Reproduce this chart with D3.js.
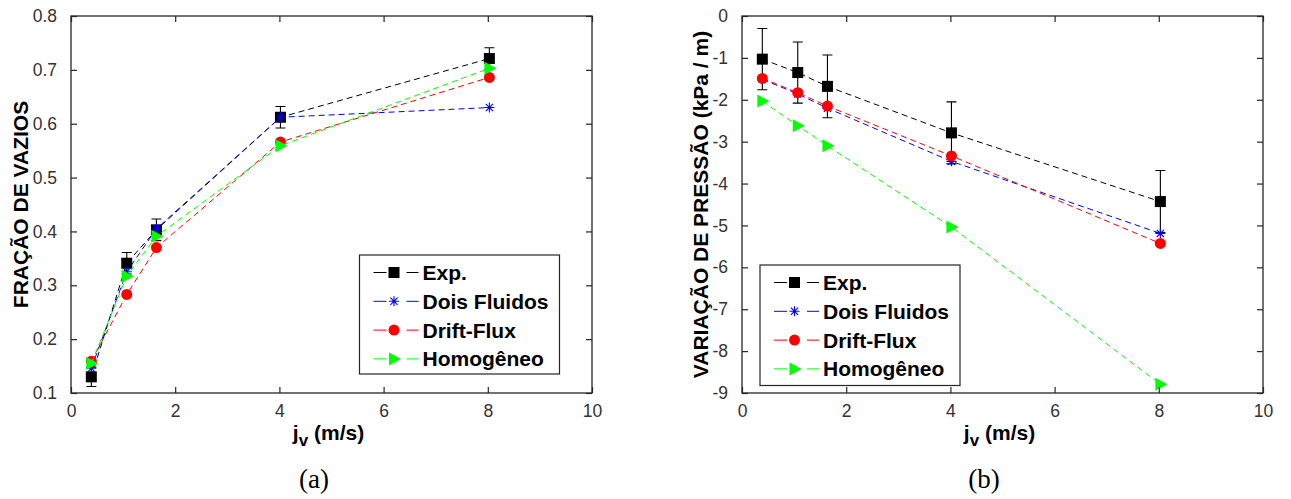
<!DOCTYPE html>
<html><head><meta charset="utf-8">
<script src="https://cdn.jsdelivr.net/npm/d3@7"></script>
<style>body{margin:0;background:#fff}svg{display:block}</style>
</head><body>
<svg id="c" width="1291" height="499"></svg>
<script>
// ---- data ----
const jv = [0.39, 1.07, 1.64, 4.02, 8.03];
const seriesNames = ["Exp.", "Dois Fluidos", "Drift-Flux", "Homogêneo"];
const seriesColors = ["#000000", "#0000ff", "#ff0000", "#00ff00"];
const seriesMarkers = ["square", "star", "circle", "triangle"];
// (a) void fraction
const voidExp = [0.130, 0.341, 0.403, 0.612, 0.721];
const voidExpErr = [0.018, 0.02, 0.02, 0.02, 0.02];
const voidDois = [0.146, 0.325, 0.405, 0.612, 0.630];
const voidDrift = [0.159, 0.283, 0.370, 0.566, 0.686];
const voidHomog = [0.155, 0.317, 0.391, 0.559, 0.703];
// (b) pressure gradient
const dpExp = [-1.03, -1.35, -1.68, -2.79, -4.43];
const dpExpErr = [0.73, 0.73, 0.75, 0.74, 0.74];
const dpDois = [-1.51, -1.86, -2.20, -3.47, -5.19];
const dpDrift = [-1.49, -1.83, -2.15, -3.34, -5.43];
const dpHomog = [-2.03, -2.62, -3.10, -5.04, -8.79];
// ticks
const xTicks = [0, 2, 4, 6, 8, 10];
const yTicksA = [0.1, 0.2, 0.3, 0.4, 0.5, 0.6, 0.7, 0.8];
const yTicksB = [0, -1, -2, -3, -4, -5, -6, -7, -8, -9];

const svg = d3.select("#c");
const AX = "#262626";
const FONT = "'Liberation Sans', Arial, sans-serif";

function marker(g, type, x, y, color) {
  if (type === "square") {
    g.append("rect").attr("x", x - 5.5).attr("y", y - 5.5).attr("width", 11).attr("height", 11).attr("fill", color);
  } else if (type === "circle") {
    g.append("circle").attr("cx", x).attr("cy", y).attr("r", 5.5).attr("fill", color);
  } else if (type === "triangle") {
    g.append("path").attr("d", `M${x-5},${y-6.5}L${x+7},${y}L${x-5},${y+6.5}Z`).attr("fill", color);
  } else if (type === "star") {
    const r = 5, d = 3.6;
    g.append("path").attr("d",
      `M${x-r},${y}L${x+r},${y}M${x},${y-r}L${x},${y+r}M${x-d},${y-d}L${x+d},${y+d}M${x-d},${y+d}L${x+d},${y-d}`)
      .attr("stroke", color).attr("stroke-width", 1.1).attr("fill", "none");
  }
}

function panel(opt) {
  const {x0, x1, y0, y1, yDomain, yTicks, yFmt, series, err, ylabel, legend, caption, capX} = opt;
  const g = svg.append("g");
  const xs = d3.scaleLinear().domain([0, 10]).range([x0, x1]);
  const ys = d3.scaleLinear().domain(yDomain).range([y1, y0]);

  series.forEach((s, i) => {
    const pts = jv.map((x, k) => [xs(x), ys(s[k])]);
    if (i === 0) {
      jv.forEach((x, k) => {
        const cx = xs(x), t = ys(s[k] + err[k]), b = ys(s[k] - err[k]);
        g.append("path").attr("d", `M${cx},${t}L${cx},${b}M${cx-5},${t}L${cx+5},${t}M${cx-5},${b}L${cx+5},${b}`)
          .attr("stroke", "#000").attr("stroke-width", 1.1).attr("fill", "none");
      });
    }
    g.append("path").attr("d", d3.line()(pts)).attr("fill", "none")
      .attr("stroke", seriesColors[i]).attr("stroke-width", 1).attr("stroke-dasharray", "6,4");
    pts.forEach(p => marker(g, seriesMarkers[i], p[0], p[1], seriesColors[i]));
  });

  g.append("rect").attr("x", x0).attr("y", y0).attr("width", x1 - x0).attr("height", y1 - y0)
    .attr("fill", "none").attr("stroke", AX).attr("stroke-width", 1.3);

  const xb = d3.axisBottom(xs).tickValues(xTicks).tickSizeInner(-6).tickSizeOuter(0).tickPadding(12).tickFormat(d3.format("d"));
  const xt = d3.axisTop(xs).tickValues(xTicks).tickSizeInner(-6).tickSizeOuter(0).tickFormat("");
  const yl = d3.axisLeft(ys).tickValues(yTicks).tickSizeInner(-6).tickSizeOuter(0).tickPadding(14).tickFormat(yFmt);
  const yr = d3.axisRight(ys).tickValues(yTicks).tickSizeInner(-6).tickSizeOuter(0).tickFormat("");
  [[xb, `translate(0,${y1})`], [xt, `translate(0,${y0})`], [yl, `translate(${x0},0)`], [yr, `translate(${x1},0)`]].forEach(([a, t]) => {
    const ga = g.append("g").attr("transform", t).call(a);
    ga.select(".domain").remove();
    ga.selectAll("line").attr("stroke", AX).attr("stroke-width", 1.2);
    ga.selectAll("text").attr("font-family", FONT).attr("font-size", 17.5).attr("fill", "#333");
  });

  const cx = (x0 + x1) / 2;
  const xl = g.append("text").attr("x", cx - 3).attr("y", 440).attr("text-anchor", "middle")
    .attr("font-family", FONT).attr("font-weight", "bold").attr("font-size", 21).attr("fill", "#000");
  xl.append("tspan").text("j");
  xl.append("tspan").attr("dy", 6).attr("font-size", 17).text("v");
  xl.append("tspan").attr("dy", -6).text(" (m/s)");

  g.append("text").attr("transform", `translate(${ylabel.x},${(y0 + y1) / 2}) rotate(-90)`)
    .attr("text-anchor", "middle").attr("font-family", FONT).attr("font-weight", "bold")
    .attr("font-size", 21).attr("fill", "#000").text(ylabel.text);

  const lg = g.append("g");
  lg.append("rect").attr("x", legend.x).attr("y", legend.y).attr("width", legend.w).attr("height", legend.h)
    .attr("fill", "#fff").attr("stroke", AX).attr("stroke-width", 1.2);
  seriesNames.forEach((n, i) => {
    const ry = legend.y + 17.5 + i * 28.8;
    const lx0 = legend.x + 14, lx1 = legend.x + 59, mx = legend.x + 34.5;
    lg.append("path").attr("d", `M${lx0},${ry}L${lx1},${ry}`).attr("stroke", seriesColors[i])
      .attr("stroke-width", 1).attr("stroke-dasharray", "13,20,12");
    marker(lg, seriesMarkers[i], mx, ry, seriesColors[i]);
    lg.append("text").attr("x", legend.x + 63).attr("y", ry + 7.5).attr("font-family", FONT)
      .attr("font-weight", "bold").attr("font-size", 21).attr("fill", "#000").text(n);
  });

  g.append("text").attr("x", capX).attr("y", 488).attr("text-anchor", "middle")
    .attr("font-family", "'Liberation Serif', 'DejaVu Serif', serif").attr("font-size", 27).attr("fill", "#000").text(caption);
}

const hyphenFmt = f => v => f(v).replace("\u2212", "-");

panel({
  x0: 71, x1: 592, y0: 16, y1: 393, yDomain: [0.1, 0.8], yTicks: yTicksA, yFmt: d3.format(".1f"),
  series: [voidExp, voidDois, voidDrift, voidHomog], err: voidExpErr,
  ylabel: {x: 28, text: "FRAÇÃO DE VAZIOS"},
  legend: {x: 359.5, y: 255, w: 200, h: 119},
  caption: "(a)", capX: 314
});
panel({
  x0: 742, x1: 1263, y0: 16, y1: 393, yDomain: [-9, 0], yTicks: yTicksB, yFmt: hyphenFmt(d3.format("d")),
  series: [dpExp, dpDois, dpDrift, dpHomog], err: dpExpErr,
  ylabel: {x: 708, text: "VARIAÇÃO DE PRESSÃO (kPa / m)"},
  legend: {x: 760, y: 265, w: 200, h: 120.5},
  caption: "(b)", capX: 984
});
</script>
</body></html>
